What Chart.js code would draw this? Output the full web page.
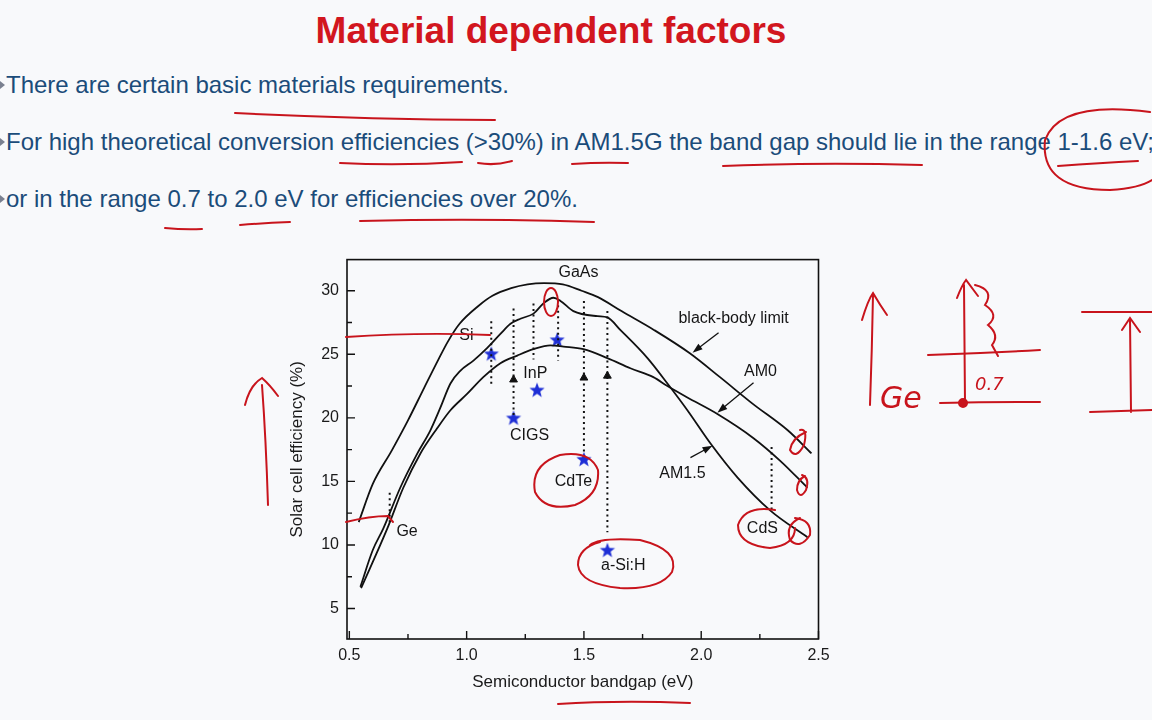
<!DOCTYPE html>
<html lang="en">
<head>
<meta charset="UTF-8">
<title>Material dependent factors</title>
<script src="https://cdn.jsdelivr.net/npm/chart.js"></script>
<style>
  body {
    margin: 0;
    width: 1152px;
    height: 720px;
    background: #f8f9fb;
    font-family: "Liberation Sans", Arial, sans-serif;
    position: relative;
    overflow: hidden;
  }
  h1 {
    position: absolute;
    top: 12px;
    left: 0;
    width: 1102px;
    margin: 0;
    text-align: center;
    font-size: 37px;
    line-height: 1;
    color: #d2161e;
    font-weight: bold;
  }
  .bullet {
    position: absolute;
    left: 6px;
    margin: 0;
    font-size: 24px;
    line-height: 1;
    color: #1b4c7a;
    white-space: nowrap;
  }
  .bullet::before {
    content: "";
    position: absolute;
    left: -6px;
    top: 8px;
    border-left: 5px solid #7a8090;
    border-top: 4px solid transparent;
    border-bottom: 4px solid transparent;
  }
  #chartBox {
    position: absolute;
    left: 283px;
    top: 242px;
    width: 560px;
    height: 455px;
  }
  svg.ink {
    position: absolute;
    left: 0;
    top: 0;
    pointer-events: none;
  }
</style>
</head>
<body>
  <h1>Material dependent factors</h1>
  <p class="bullet" style="top:73px">There are certain basic materials requirements.</p>
  <p class="bullet" style="top:130px">For high theoretical conversion efficiencies (&gt;30%) in AM1.5G the band gap should lie in the range 1-1.6 eV;</p>
  <p class="bullet" style="top:187px">or in the range 0.7 to 2.0 eV for efficiencies over 20%.</p>

  <div id="chartBox"><canvas id="effChart"></canvas></div>

  <!-- lecturer's red pen marks -->
  <svg class="ink" width="1152" height="720" fill="none" stroke="#c8141c" stroke-width="2" stroke-linecap="round">
    <path d="M235 113 Q360 119 495 120"/>
    <path d="M340 163 Q400 166 462 162"/>
    <path d="M478 163 Q495 166 512 161"/>
    <path d="M572 164 Q600 162 628 163"/>
    <path d="M723 166 Q820 162 922 165"/>
    <path d="M1058 166 Q1100 163 1138 161"/>
    <path d="M1150 112 Q1060 100 1045 140 Q1040 190 1110 190 Q1140 188 1152 180"/>
    <path d="M165 228 Q185 230 202 229"/>
    <path d="M240 225 Q265 223 290 222"/>
    <path d="M360 221 Q480 218 594 222"/>
    <path d="M346 337 Q420 332 490 335"/>
    <path d="M346 522 Q370 516 388 516 L393 522"/>
    <ellipse cx="551" cy="302" rx="7" ry="14"/>
    <path d="M598 470 Q590 450 560 455 Q530 465 535 492 Q545 512 575 505 Q600 495 598 470"/>
    <path d="M590 545 Q600 537 640 540 Q680 550 672 572 Q660 590 620 588 Q580 584 578 565 Q578 548 600 542"/>
    <path d="M775 510 Q745 505 738 525 Q738 545 770 548 Q795 545 795 528"/>
    <path d="M795 518 Q812 520 810 535 Q800 550 790 540 Q785 525 800 518"/>
    <path d="M800 430 Q808 428 804 445 Q796 460 790 450 Q792 438 806 432"/>
    <path d="M802 475 Q810 478 806 490 Q800 500 797 490 Q797 480 805 476"/>
    <path d="M558 704 Q620 700 690 703"/>
    <path d="M268 505 Q266 440 262 385"/>
    <path d="M245 405 Q250 385 262 378 Q270 385 278 396"/>
    <path d="M870 405 Q872 350 873 295 M862 320 Q868 300 873 293 Q880 305 887 315"/>
    <path d="M965 403 L964 285 M957 298 Q962 285 966 280 Q972 288 978 296"/>
    <path d="M975 285 Q995 290 985 305 Q1000 315 988 325 Q1000 335 992 345 L998 356"/>
    <path d="M928 355 Q985 353 1040 350"/>
    <path d="M940 403 Q990 402 1040 402"/>
    <path d="M1082 312 L1152 312 M1090 412 L1152 410 M1130 320 L1131 412 M1122 330 L1130 318 L1140 332"/>
    <circle cx="963" cy="403" r="4" fill="#c8141c"/>
    <text x="880" y="408" fill="#c8141c" stroke="none" font-family="DejaVu Sans" font-style="italic" font-size="30">Ge</text>
    <text x="975" y="390" fill="#c8141c" stroke="none" font-family="DejaVu Sans" font-style="italic" font-size="18">0.7</text>
  </svg>

<script>
// black-body limit
const bbX = [0.54, 0.60, 0.68, 0.75, 0.82, 0.88, 0.92, 0.97, 1.05, 1.11, 1.19, 1.26, 1.33, 1.41, 1.49, 1.56, 1.66, 1.80, 1.95, 2.08, 2.22, 2.37, 2.47];
const bbY = [11.8, 14.8, 17.4, 19.8, 22.4, 24.6, 26.0, 27.4, 28.8, 29.6, 30.2, 30.5, 30.6, 30.5, 30.0, 29.5, 28.4, 26.9, 25.1, 23.2, 21.1, 19.0, 17.2];

// AM1.5 spectrum
const am15X = [0.547, 0.60, 0.645, 0.717, 0.79, 0.845, 0.888, 0.931, 0.973, 1.029, 1.088, 1.144, 1.187, 1.229, 1.285, 1.327, 1.37, 1.40, 1.455, 1.558, 1.60, 1.656, 1.771, 1.856, 1.941, 2.039, 2.155, 2.295, 2.453];
const am15Y = [6.7, 9.6, 11.3, 14.5, 17.2, 19.0, 20.8, 22.7, 23.7, 24.5, 25.5, 26.6, 27.4, 27.8, 28.2, 29.0, 29.45, 29.2, 28.4, 28.0, 27.9, 26.9, 24.7, 22.7, 20.6, 18.0, 15.3, 12.7, 10.6];

// AM0 spectrum
const am0X = [0.55, 0.662, 0.73, 0.803, 0.875, 0.931, 1.003, 1.071, 1.144, 1.216, 1.285, 1.357, 1.413, 1.498, 1.60, 1.698, 1.796, 1.856, 1.941, 2.069, 2.223, 2.338, 2.453];
const am0Y = [6.6, 11.3, 14.5, 17.2, 19.2, 20.6, 21.9, 23.2, 24.3, 24.9, 25.4, 25.7, 25.6, 25.4, 24.7, 23.9, 23.2, 22.5, 21.6, 20.3, 18.4, 16.6, 14.5];

// materials: bandgap and dotted guide extent
const matNames = ['Ge', 'Si', 'CIGS', 'InP', 'GaAs', 'CdTe', 'a-Si:H', 'CdS'];
const matGap = [0.672, 1.105, 1.2, 1.285, 1.39, 1.5, 1.6, 2.3];
const dotTop = [14.1, 27.6, 28.6, 29.0, 29.3, 29.2, 28.4, 17.7];
const dotBottom = [11.7, 22.4, 20.0, 24.6, 24.5, 16.7, 11.0, 12.6];

// record cell efficiencies (stars)
const starX = [1.105, 1.2, 1.3, 1.386, 1.5, 1.6];
const starY = [25.0, 19.95, 22.15, 26.1, 16.7, 9.55];

// upward arrowheads on guides
const upArrowX = [1.2, 1.5, 1.6];
const upArrowY = [23.0, 23.15, 23.3];

// text labels inside the plot
const labelText = ['GaAs', 'Si', 'InP', 'CIGS', 'CdTe', 'a-Si:H', 'CdS', 'Ge', 'black-body limit', 'AM0', 'AM1.5'];
const labelX = [1.477, 0.999, 1.293, 1.268, 1.455, 1.668, 2.261, 0.746, 2.138, 2.253, 1.920];
const labelY = [31.4, 26.46, 23.47, 18.6, 15.0, 8.38, 11.29, 11.07, 27.8, 23.63, 15.61];

// pointer arrows from labels to curves
const pointerFromX = [2.074, 2.223, 1.954];
const pointerFromY = [26.7, 22.77, 16.87];
const pointerToX = [1.963, 2.069, 2.048];
const pointerToY = [25.13, 20.41, 17.81];

const xTicks = [0.5, 1.0, 1.5, 2.0, 2.5];
const xMinor = [0.75, 1.25, 1.75, 2.25];
const yTicks = [5, 10, 15, 20, 25, 30];
const yMinor = [7.5, 12.5, 17.5, 22.5, 27.5];

const FONT = '"Liberation Sans", Arial, sans-serif';
Chart.defaults.font.family = FONT;
Chart.defaults.color = '#1a1a1a';

function pts(xs, ys) {
  return xs.map((v, i) => ({ x: v, y: ys[i] }));
}

function makeStar(r, color) {
  const c = document.createElement('canvas');
  c.width = c.height = 2 * r + 2;
  const g = c.getContext('2d');
  g.fillStyle = color;
  g.beginPath();
  for (let i = 0; i < 10; i++) {
    const a = -Math.PI / 2 + i * Math.PI / 5;
    const rr = i % 2 ? r * 0.42 : r;
    g.lineTo(r + 1 + rr * Math.cos(a), r + 1 + rr * Math.sin(a));
  }
  g.closePath();
  g.fill();
  return c;
}

// dotted guides, broken with null between materials
const guideData = matGap.flatMap((g, i) => [
  { x: g, y: dotTop[i] }, { x: g, y: dotBottom[i] }, { x: g, y: null }
]);

const decor = {
  id: 'decor',
  afterDatasetsDraw(chart) {
    const { ctx, chartArea: a, scales: { x, y } } = chart;
    ctx.save();
    ctx.strokeStyle = '#111';
    ctx.lineWidth = 1.6;
    ctx.strokeRect(a.left, a.top, a.right - a.left, a.bottom - a.top);

    // inward tick marks
    ctx.lineWidth = 1.4;
    ctx.beginPath();
    xTicks.forEach(v => { const p = x.getPixelForValue(v); ctx.moveTo(p, a.bottom); ctx.lineTo(p, a.bottom - 8); });
    xMinor.forEach(v => { const p = x.getPixelForValue(v); ctx.moveTo(p, a.bottom); ctx.lineTo(p, a.bottom - 5); });
    yTicks.forEach(v => { const p = y.getPixelForValue(v); ctx.moveTo(a.left, p); ctx.lineTo(a.left + 8, p); });
    yMinor.forEach(v => { const p = y.getPixelForValue(v); ctx.moveTo(a.left, p); ctx.lineTo(a.left + 5, p); });
    ctx.stroke();

    // labels
    ctx.fillStyle = '#151515';
    ctx.font = '16px ' + FONT;
    ctx.textAlign = 'center';
    ctx.textBaseline = 'middle';
    labelText.forEach((t, i) => {
      ctx.fillText(t, x.getPixelForValue(labelX[i]), y.getPixelForValue(labelY[i]));
    });

    // pointer arrows
    ctx.lineWidth = 1.3;
    pointerFromX.forEach((_, i) => {
      const x0 = x.getPixelForValue(pointerFromX[i]), y0 = y.getPixelForValue(pointerFromY[i]);
      const x1 = x.getPixelForValue(pointerToX[i]), y1 = y.getPixelForValue(pointerToY[i]);
      const ang = Math.atan2(y1 - y0, x1 - x0);
      ctx.beginPath();
      ctx.moveTo(x0, y0);
      ctx.lineTo(x1 - 6 * Math.cos(ang), y1 - 6 * Math.sin(ang));
      ctx.stroke();
      ctx.beginPath();
      ctx.moveTo(x1, y1);
      ctx.lineTo(x1 - 10 * Math.cos(ang) + 3.5 * Math.sin(ang), y1 - 10 * Math.sin(ang) - 3.5 * Math.cos(ang));
      ctx.lineTo(x1 - 10 * Math.cos(ang) - 3.5 * Math.sin(ang), y1 - 10 * Math.sin(ang) + 3.5 * Math.cos(ang));
      ctx.closePath();
      ctx.fillStyle = '#111';
      ctx.fill();
    });
    ctx.restore();
  }
};

const curveStyle = {
  showLine: true,
  borderColor: '#111',
  borderWidth: 1.8,
  pointRadius: 0,
  cubicInterpolationMode: 'monotone'
};

new Chart(document.getElementById('effChart'), {
  type: 'scatter',
  data: {
    datasets: [
      { label: 'black-body limit', data: pts(bbX, bbY), ...curveStyle },
      { label: 'AM1.5', data: pts(am15X, am15Y), ...curveStyle },
      { label: 'AM0', data: pts(am0X, am0Y), ...curveStyle },
      {
        label: 'guides', data: guideData, showLine: true, spanGaps: false,
        borderColor: '#111', borderWidth: 2, borderDash: [2, 3.5], pointRadius: 0
      },
      {
        label: 'arrowheads', data: pts(upArrowX, upArrowY),
        pointStyle: 'triangle', pointRadius: 4.5, backgroundColor: '#111', borderColor: '#111', borderWidth: 1
      },
      {
        label: 'cells', data: pts(starX, starY),
        pointStyle: makeStar(8, '#1e2fd6'), pointRadius: 8
      }
    ]
  },
  plugins: [decor],
  options: {
    responsive: true,
    maintainAspectRatio: false,
    animation: false,
    layout: { padding: { top: 0, right: 24.5, left: 0, bottom: 0 } },
    plugins: { legend: { display: false }, tooltip: { enabled: false } },
    scales: {
      x: {
        type: 'linear',
        min: 0.49,
        max: 2.5,
        grid: { display: false, drawTicks: false },
        border: { display: false },
        afterBuildTicks: s => { s.ticks = xTicks.map(v => ({ value: v })); },
        ticks: { font: { size: 16 }, color: '#1a1a1a', padding: 7, maxRotation: 0, autoSkip: false, callback: v => v.toFixed(1) },
        title: { display: true, text: 'Semiconductor bandgap (eV)', font: { size: 17 }, color: '#1a1a1a' },
        afterFit: s => { s.height = 58; }
      },
      y: {
        type: 'linear',
        min: 2.6,
        max: 32.45,
        grid: { display: false, drawTicks: false },
        border: { display: false },
        afterBuildTicks: s => { s.ticks = yTicks.map(v => ({ value: v })); },
        ticks: { font: { size: 16 }, color: '#1a1a1a', padding: 8, autoSkip: false },
        title: { display: true, text: 'Solar cell efficiency (%)', font: { size: 17 }, color: '#1a1a1a' },
        afterFit: s => { s.width = 64; }
      }
    }
  }
});
</script>
</body>
</html>
